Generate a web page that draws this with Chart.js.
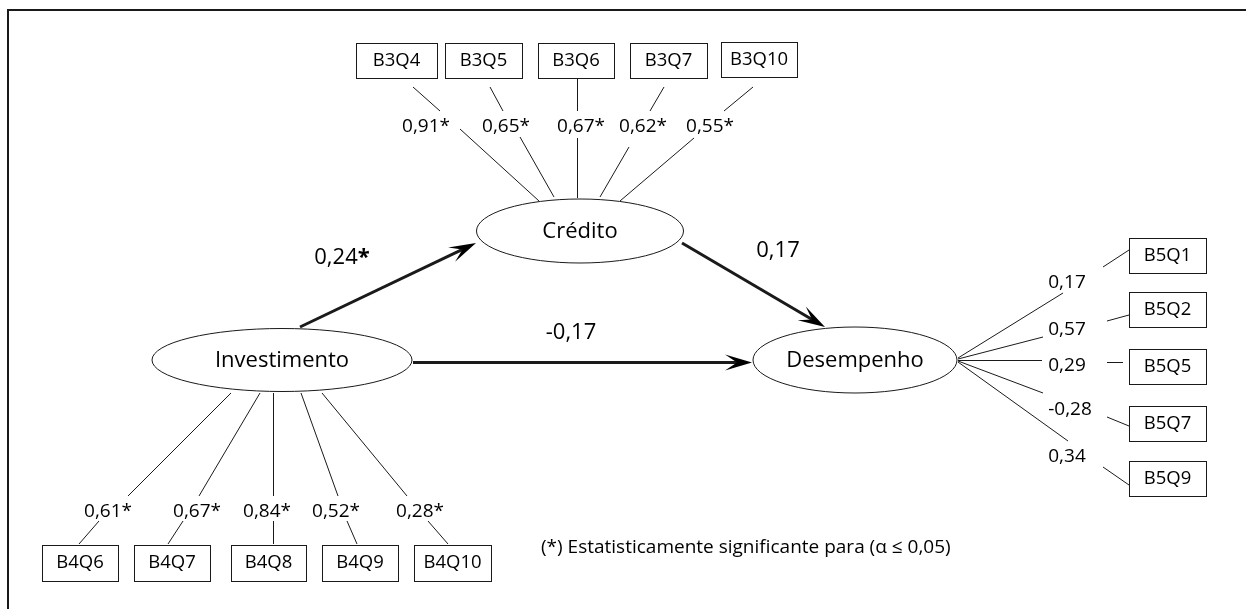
<!DOCTYPE html>
<html lang="pt-BR">
<head>
<meta charset="utf-8">
<title>Modelo estrutural</title>
<script src="https://cdn.jsdelivr.net/npm/chart.js@4"></script>
<style>
  html, body { margin: 0; padding: 0; background: #fff; }
  canvas { display: block; }
</style>
</head>
<body>
<canvas id="modelo" width="1246" height="609"></canvas>
<script>
// Dados do modelo (cargas e coeficientes)
const latentes = ['Investimento', 'Crédito', 'Desempenho'];

const itensCredito = ['B3Q4', 'B3Q5', 'B3Q6', 'B3Q7', 'B3Q10'];
const cargasCredito = [0.91, 0.65, 0.67, 0.62, 0.55];
const sigCredito = [true, true, true, true, true];

const itensInvestimento = ['B4Q6', 'B4Q7', 'B4Q8', 'B4Q9', 'B4Q10'];
const cargasInvestimento = [0.61, 0.67, 0.84, 0.52, 0.28];
const sigInvestimento = [true, true, true, true, true];

const itensDesempenho = ['B5Q1', 'B5Q2', 'B5Q5', 'B5Q7', 'B5Q9'];
const cargasDesempenho = [0.17, 0.57, 0.29, -0.28, 0.34];
const sigDesempenho = [false, false, false, false, false];

const caminhos = [['Investimento', 'Crédito'], ['Crédito', 'Desempenho'], ['Investimento', 'Desempenho']];
const coefCaminhos = [0.24, 0.17, -0.17];
const sigCaminhos = [true, false, false];

const nota = '(*) Estatisticamente significante para (α ≤ 0,05)';

// Posições do desenho (pixels do quadro)
const elipses = {
  'Investimento': { cx: 282, cy: 360, rx: 130, ry: 31.5 },
  'Crédito': { cx: 580, cy: 231, rx: 103.5, ry: 32 },
  'Desempenho': { cx: 855, cy: 360, rx: 102, ry: 33 }
};

const layoutCredito = [
  { caixa: [356, 43, 437, 78], seg1: [539, 201, 460, 129], seg2: [440, 111, 413, 87], rotulo: [426, 127] },
  { caixa: [445, 43, 522, 78], seg1: [554, 197, 520, 137], seg2: [503, 111, 490, 87], rotulo: [506, 127] },
  { caixa: [538, 43, 614, 78], seg1: [577.5, 198, 577.5, 138], seg2: [577.5, 111, 577.5, 78], rotulo: [581, 127] },
  { caixa: [630, 43, 707, 78], seg1: [600, 197, 629, 147], seg2: [650, 111, 664, 87], rotulo: [643, 127] },
  { caixa: [721, 42, 797, 77], seg1: [620, 201, 694, 138], seg2: [724, 111, 753, 87], rotulo: [710, 127] }
];

const layoutInvestimento = [
  { caixa: [42, 545, 118, 581], seg1: [231, 393, 128, 496], seg2: [99, 521, 79, 544], rotulo: [108, 512] },
  { caixa: [134, 545, 210, 581], seg1: [260, 393, 199, 496], seg2: [183, 521, 168, 544], rotulo: [197, 512] },
  { caixa: [231, 545, 306, 581], seg1: [273.5, 393, 273.5, 496], seg2: [273.5, 521, 273.5, 544], rotulo: [267, 512] },
  { caixa: [322, 545, 398, 581], seg1: [301, 393, 338, 496], seg2: [347, 521, 357, 544], rotulo: [336, 512] },
  { caixa: [414, 545, 491, 581], seg1: [322, 393, 407, 496], seg2: [428, 521, 448, 544], rotulo: [420, 512] }
];

const layoutDesempenho = [
  { caixa: [1129, 238, 1206, 273], seg1: [958, 358, 1063, 293], seg2: [1103, 267, 1129, 250], rotulo: [1067, 283] },
  { caixa: [1129, 292, 1206, 327], seg1: [958, 359, 1043, 337], seg2: [1107, 321, 1129, 315], rotulo: [1067, 330] },
  { caixa: [1129, 349, 1206, 384], seg1: [958, 360.5, 1042, 360.5], seg2: [1107, 362.5, 1123, 362.5], rotulo: [1067, 366] },
  { caixa: [1129, 406, 1206, 441], seg1: [958, 361, 1043, 393], seg2: [1107, 417, 1129, 426], rotulo: [1070, 410] },
  { caixa: [1129, 461, 1206, 496], seg1: [958, 362, 1068, 441], seg2: [1103, 467, 1129, 485], rotulo: [1067, 457] }
];

const setas = [[300, 327, 476, 243], [682, 243, 825, 327], [413, 362.5, 752, 362.5]];
const rotulosCaminhos = [[342, 258], [778, 251], [571, 333]];
const posNota = [541, 548];

const FONTE = '"Open Sans", "Noto Sans", sans-serif';

function formata(v) {
  return v.toFixed(2).replace('.', ',');
}

function linha(seg, largura) {
  return {
    data: [{ x: seg[0], y: seg[1] }, { x: seg[2], y: seg[3] }],
    showLine: true,
    borderColor: '#1a1a1a',
    borderWidth: largura,
    pointRadius: 0,
    fill: false
  };
}

// Monta os segmentos de cada indicador
const datasets = [];
[layoutCredito, layoutInvestimento, layoutDesempenho].forEach(grupo => {
  grupo.forEach(item => {
    datasets.push(linha(item.seg1, 1));
    datasets.push(linha(item.seg2, 1));
  });
});

// Hastes das setas (encurtadas para a ponta ficar limpa)
setas.forEach(s => {
  const dx = s[2] - s[0], dy = s[3] - s[1];
  const d = Math.hypot(dx, dy);
  datasets.push(linha([s[0], s[1], s[2] - dx / d * 12, s[3] - dy / d * 12], 3));
});

function textoCoef(ctx, texto, sig, negrito, x, y, tam) {
  ctx.font = tam + 'px ' + FONTE;
  const w1 = ctx.measureText(texto).width;
  let w2 = 0;
  const fAst = (negrito ? 'bold ' : '') + tam + 'px ' + FONTE;
  if (sig) {
    ctx.font = fAst;
    w2 = ctx.measureText('*').width;
  }
  const x0 = x - (w1 + w2) / 2;
  ctx.textAlign = 'left';
  ctx.font = tam + 'px ' + FONTE;
  ctx.fillText(texto, x0, y);
  if (sig) {
    ctx.font = fAst;
    ctx.fillText('*', x0 + w1, y);
  }
}

const desenho = {
  id: 'desenho',
  afterDatasetsDraw(chart) {
    const ctx = chart.ctx;
    const sx = chart.scales.x, sy = chart.scales.y;
    const px = v => sx.getPixelForValue(v);
    const py = v => sy.getPixelForValue(v);

    ctx.save();
    ctx.fillStyle = '#000';
    ctx.strokeStyle = '#1a1a1a';
    ctx.textBaseline = 'middle';

    // Elipses das variáveis latentes
    latentes.forEach(nome => {
      const e = elipses[nome];
      ctx.beginPath();
      ctx.ellipse(px(e.cx), py(e.cy), px(e.cx + e.rx) - px(e.cx), py(e.cy + e.ry) - py(e.cy), 0, 0, Math.PI * 2);
      ctx.fillStyle = '#fff';
      ctx.fill();
      ctx.lineWidth = 1;
      ctx.stroke();
      ctx.fillStyle = '#000';
      ctx.font = '22px ' + FONTE;
      ctx.textAlign = 'center';
      ctx.fillText(nome, px(e.cx), py(e.cy + 1));
    });

    // Caixas dos indicadores e cargas
    const grupos = [
      [itensCredito, cargasCredito, sigCredito, layoutCredito],
      [itensInvestimento, cargasInvestimento, sigInvestimento, layoutInvestimento],
      [itensDesempenho, cargasDesempenho, sigDesempenho, layoutDesempenho]
    ];
    grupos.forEach(g => {
      g[0].forEach((nome, i) => {
        const c = g[3][i].caixa;
        const x1 = px(c[0]), y1 = py(c[1]), x2 = px(c[2]), y2 = py(c[3]);
        ctx.lineWidth = 1;
        ctx.strokeStyle = '#1a1a1a';
        ctx.strokeRect(Math.round(x1) + 0.5, Math.round(y1) + 0.5, Math.round(x2 - x1), Math.round(y2 - y1));
        ctx.font = '18.5px ' + FONTE;
        ctx.textAlign = 'center';
        ctx.fillText(nome, (x1 + x2) / 2, (y1 + y2) / 2);
        const r = g[3][i].rotulo;
        textoCoef(ctx, formata(g[1][i]), g[2][i], false, px(r[0]), py(r[1]), 19);
      });
    });

    // Pontas das setas
    setas.forEach(s => {
      const ang = Math.atan2(py(s[3]) - py(s[1]), px(s[2]) - px(s[0]));
      const tx = px(s[2]), ty = py(s[3]);
      const L = 27, W = 8, N = 15;
      const cs = Math.cos(ang), sn = Math.sin(ang);
      ctx.beginPath();
      ctx.moveTo(tx, ty);
      ctx.lineTo(tx - L * cs - W * sn, ty - L * sn + W * cs);
      ctx.lineTo(tx - N * cs, ty - N * sn);
      ctx.lineTo(tx - L * cs + W * sn, ty - L * sn - W * cs);
      ctx.closePath();
      ctx.fillStyle = '#000';
      ctx.fill();
    });

    // Coeficientes estruturais
    caminhos.forEach((c, i) => {
      const r = rotulosCaminhos[i];
      textoCoef(ctx, formata(coefCaminhos[i]), sigCaminhos[i], true, px(r[0]), py(r[1]), 22);
    });

    // Nota de rodapé
    ctx.font = '19px ' + FONTE;
    ctx.textAlign = 'left';
    ctx.fillText(nota, px(posNota[0]), py(posNota[1]));

    // Moldura (apenas topo e esquerda visíveis)
    ctx.strokeStyle = '#1a1a1a';
    ctx.lineWidth = 2;
    ctx.beginPath();
    ctx.moveTo(px(1246), py(10));
    ctx.lineTo(px(8), py(10));
    ctx.lineTo(px(8), py(609));
    ctx.stroke();
    ctx.restore();
  }
};

new Chart(document.getElementById('modelo'), {
  type: 'scatter',
  data: { datasets: datasets },
  options: {
    responsive: false,
    animation: false,
    devicePixelRatio: 1,
    events: [],
    layout: { padding: 0 },
    scales: {
      x: { type: 'linear', min: 0, max: 1246, display: false },
      y: { type: 'linear', min: 0, max: 609, reverse: true, display: false }
    },
    plugins: {
      legend: { display: false },
      tooltip: { enabled: false }
    }
  },
  plugins: [desenho]
});
</script>
</body>
</html>
